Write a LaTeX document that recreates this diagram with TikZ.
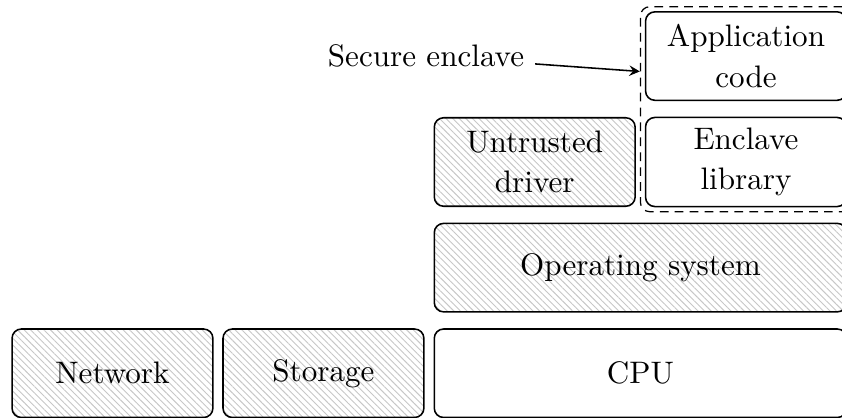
\documentclass[tikz,border=0pt]{standalone}
\usetikzlibrary{arrows,positioning,fit,calc,patterns.meta}

\begin{document}
\begin{tikzpicture}[
        font=\fontsize{10pt}{13pt}\selectfont,
        node distance=0.176cm and 0.1cm,
        layer/.style={rectangle, draw, rounded corners=3pt, line width=0.5pt,
        minimum width=2.27cm, minimum height=1cm, align=center},
        untrusted/.style={layer,
        pattern={Lines[angle=-45,distance=1.5pt,line width=0.3pt]},
        pattern color=black!22},
        wide/.style={minimum width=4.66cm},
        enclave/.style={draw, dash pattern=on 2.8pt off 2pt,
        rounded corners=3pt, inner sep=1.4pt},
        arrow/.style={->,>=stealth, line width=0.5pt}
    ]

% Page frame (boxes on the right run off the edge)
        \useasboundingbox (-1.271,-0.505) rectangle +(9.515,4.723);

% Hardware
        \node[untrusted] (net) {Network};
        \node[untrusted, right=of net] (disk) {Storage};
        \node[layer, wide, right=of disk] (cpu) {CPU};

% Software stack
        \node[untrusted, wide, above=of cpu] (os) {Operating system};
        \node[untrusted, above right=0.176cm and 0cm of os.north west] (driver) {Untrusted\\ driver};
        \node[layer, right=of driver] (lib) {Enclave\\ library};
        \node[layer, above=of lib] (app) {Application\\ code};

% Enclave boundary and its label
        \node[enclave, fit=(app) (lib)] (encl) {};
        \node[left=1.24cm of app] (label) {Secure enclave};
        \coordinate (tip) at ($(encl.north west)!0.317!(encl.south west)$);
        \draw[arrow] (label) -- (tip);

    \end{tikzpicture}
\end{document}
